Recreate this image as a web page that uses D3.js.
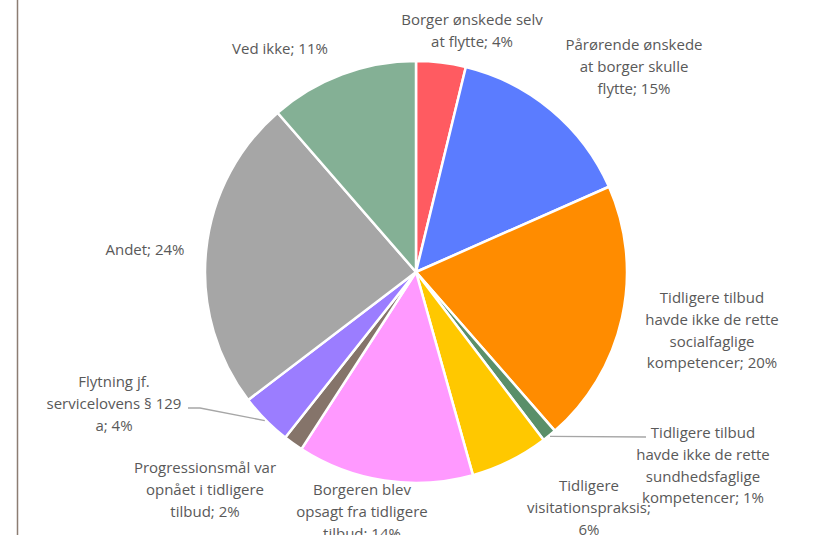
<!DOCTYPE html>
<html>
<head>
<meta charset="utf-8">
<script src="https://cdn.jsdelivr.net/npm/d3@7"></script>
<style>
  body { margin: 0; background: #fff; }
  svg text { font-family: "Open Sans", sans-serif; font-size: 15px; fill: #595959; }
</style>
</head>
<body>
<svg id="chart" width="814" height="535"></svg>
<script>
// data, clockwise from 12 o'clock
var categories = [
  "Borger ønskede selv at flytte",
  "Pårørende ønskede at borger skulle flytte",
  "Tidligere tilbud havde ikke de rette socialfaglige kompetencer",
  "Tidligere tilbud havde ikke de rette sundhedsfaglige kompetencer",
  "Tidligere visitationspraksis",
  "Borgeren blev opsagt fra tidligere tilbud",
  "Progressionsmål var opnået i tidligere tilbud",
  "Flytning jf. servicelovens § 129 a",
  "Andet",
  "Ved ikke"
];
var values = [3.8, 14.6, 20.2, 1.1, 6.0, 13.5, 1.5, 4.0, 24.0, 11.4];
var pctLabels = ["4%", "15%", "20%", "1%", "6%", "14%", "2%", "4%", "24%", "11%"];
var labelLines = [
  ["Borger ønskede selv", "at flytte; 4%"],
  ["Pårørende ønskede", "at borger skulle", "flytte; 15%"],
  ["Tidligere tilbud", "havde ikke de rette", "socialfaglige", "kompetencer; 20%"],
  ["Tidligere tilbud", "havde ikke de rette", "sundhedsfaglige", "kompetencer; 1%"],
  ["Tidligere", "visitationspraksis;", "6%"],
  ["Borgeren blev", "opsagt fra tidligere", "tilbud; 14%"],
  ["Progressionsmål var", "opnået i tidligere", "tilbud; 2%"],
  ["Flytning jf.", "servicelovens § 129", "a; 4%"],
  ["Andet; 24%"],
  ["Ved ikke; 11%"]
];
var colors = ["#ff5b61", "#5b7cff", "#ff8c00", "#5a8f69", "#ffc800",
              "#ff99ff", "#85746a", "#9b7dff", "#a6a6a6", "#84b095"];

// layout: label block centres (x, y of first line) and leader lines
var labelPos = [
  [472, 20], [634, 45], [712, 298], [703, 433], [589, 486],
  [362, 490], [205, 468], [114, 382], [145, 250], [280, 49]
];
var leaders = { 3: [[646, 437]], 7: [[200, 408], [188, 408]] };

var svg = d3.select("#chart");
var cx = 416, cy = 272, radius = 211, lineH = 21.7;

// frame edge on the left
svg.append("line")
  .attr("x1", 17.5).attr("x2", 17.5)
  .attr("y1", 0).attr("y2", 535)
  .attr("stroke", "#8c7d73")
  .attr("stroke-width", 1.5);

var pie = d3.pie().sort(null).value(function(d) { return d; });
var arcs = pie(values);

var arc = d3.arc().innerRadius(0).outerRadius(radius);
var edge = d3.arc().innerRadius(radius + 1).outerRadius(radius + 1);

var g = svg.append("g")
  .attr("transform", "translate(" + cx + "," + cy + ")");

g.selectAll("path.slice")
  .data(arcs)
  .enter()
  .append("path")
  .attr("class", "slice")
  .attr("d", arc)
  .attr("fill", function(d, i) { return colors[i]; })
  .attr("stroke", "#fff")
  .attr("stroke-width", 2.5)
  .attr("stroke-linejoin", "round");

// leader lines
Object.keys(leaders).forEach(function(k) {
  var i = +k;
  var c = edge.centroid(arcs[i]);
  var pts = [[c[0] + cx, c[1] + cy]].concat(leaders[k]);
  svg.append("polyline")
    .attr("points", pts.map(function(p) { return p.join(","); }).join(" "))
    .attr("fill", "none")
    .attr("stroke", "#a6a6a6")
    .attr("stroke-width", 1.3);
});

// labels
labelLines.forEach(function(lines, i) {
  var t = svg.append("text")
    .attr("text-anchor", "middle")
    .attr("x", labelPos[i][0])
    .attr("y", labelPos[i][1]);
  lines.forEach(function(s, j) {
    t.append("tspan")
      .attr("x", labelPos[i][0])
      .attr("y", labelPos[i][1] + j * lineH)
      .attr("dy", "0.35em")
      .text(s);
  });
});
</script>
</body>
</html>
